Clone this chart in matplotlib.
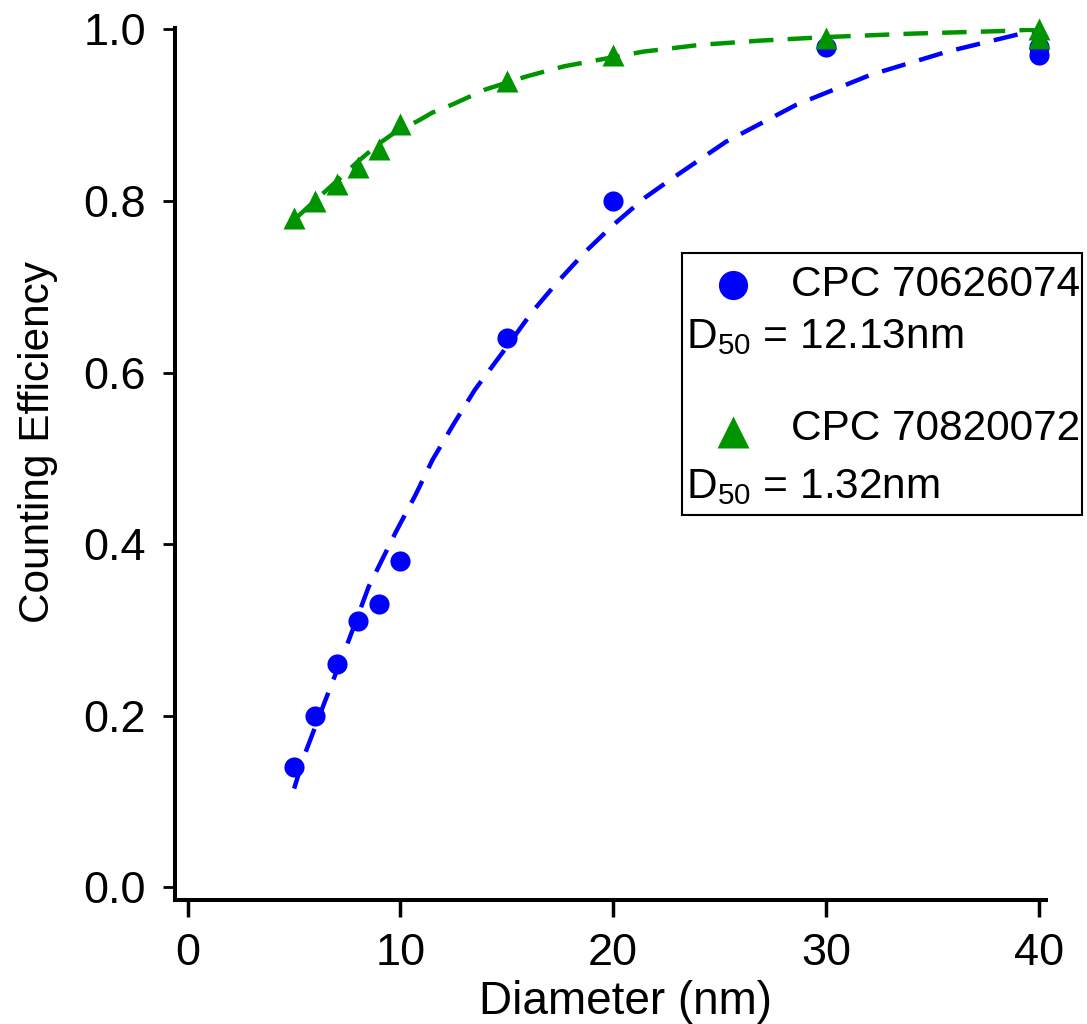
import matplotlib
matplotlib.use("Agg")
import matplotlib.pyplot as plt
from matplotlib.patches import Rectangle

plt.rcParams['font.family'] = ['Liberation Sans', 'DejaVu Sans']
plt.rcParams['mathtext.fontset'] = 'custom'
plt.rcParams['mathtext.rm'] = 'Liberation Sans'

# measured data
blue_d = [5, 6, 7, 8, 9, 10, 15, 20, 30, 40, 40]
blue_eff = [0.14, 0.20, 0.26, 0.31, 0.33, 0.38, 0.64, 0.80, 0.98, 0.98, 0.97]
green_d = [5, 6, 7, 8, 9, 10, 15, 20, 30, 40, 40]
green_eff = [0.78, 0.80, 0.82, 0.84, 0.86, 0.89, 0.94, 0.97, 0.99, 1.00, 0.99]

# fitted curves
blue_fit_d = [5.0, 5.5, 6.5, 7.6, 8.5, 9.8, 10.7, 11.5, 12.5, 13.5, 15.0, 16.2,
              17.4, 18.7, 20.0, 21.5, 22.7, 25.3, 28.6, 32.1, 35.7, 40.0]
blue_fit_eff = [0.115, 0.155, 0.22, 0.29, 0.35, 0.415, 0.457, 0.498, 0.54, 0.58,
                0.63, 0.671, 0.706, 0.741, 0.772, 0.804, 0.825, 0.869, 0.912,
                0.947, 0.974, 1.0]
green_fit_d = [5.0, 6.1, 7.0, 8.0, 9.0, 9.8, 10.8, 11.5, 12.4, 14.0, 15.9, 17.7,
               21.4, 24.1, 27.0, 30.0, 34.0, 38.2, 40.0]
green_fit_eff = [0.778, 0.803, 0.823, 0.846, 0.867, 0.881, 0.893, 0.903, 0.912,
                 0.93, 0.945, 0.957, 0.974, 0.982, 0.987, 0.991, 0.995, 0.998, 1.0]

labels = ["CPC 70626074", "CPC 70820072"]
d50_labels = ["D$_{50}$ = 12.13nm", "D$_{50}$ = 1.32nm"]
xticks = [0, 10, 20, 30, 40]
yticks = [0.0, 0.2, 0.4, 0.6, 0.8, 1.0]

BLUE = '#0000ff'
GREEN = '#009400'

fig = plt.figure(figsize=(10.87, 10.24), dpi=100)
ax = fig.add_axes([0.161, 0.121, 0.801, 0.852])

dash = (0, (5.5, 3.2))
ax.plot(blue_fit_d, blue_fit_eff, color=BLUE, lw=3.2, linestyle=dash)
ax.plot(green_fit_d, green_fit_eff, color=GREEN, lw=3.2, linestyle=dash)
ax.plot(blue_d, blue_eff, 'o', color=BLUE, ms=14.5, mec='none', clip_on=False)
ax.plot(green_d, green_eff, '^', color=GREEN, ms=16.5, mec='none', clip_on=False)

ax.set_xlim(-0.6, 40.33)
ax.set_ylim(-0.015, 1.002)
ax.set_xticks(xticks)
ax.set_xticklabels([str(t) for t in xticks])
ax.set_yticks(yticks)
ax.set_yticklabels([f"{t:.1f}" for t in yticks])

for s in ['top', 'right']:
    ax.spines[s].set_visible(False)
for s in ['left', 'bottom']:
    ax.spines[s].set_linewidth(2.9)

ax.tick_params(axis='y', length=9, width=2, labelsize=32.5, pad=12)
ax.tick_params(axis='x', length=12, width=2.5, labelsize=32.5, pad=12)

ax.set_xlabel("Diameter (nm)", fontsize=33, labelpad=4)
ax.xaxis.label.set_x(0.517)
ax.set_ylabel("Counting Efficiency", fontsize=30.5, labelpad=18)
ax.yaxis.label.set_y(0.525)

# legend box
box = Rectangle((0.582, 0.4415), 0.46, 0.3005, transform=ax.transAxes,
                facecolor='white', edgecolor='black', lw=1.5, clip_on=False, zorder=5)
ax.add_patch(box)
ax.plot([0.641], [0.705], 'o', color=BLUE, ms=21, mec='none',
        transform=ax.transAxes, clip_on=False, zorder=6)
ax.plot([0.641], [0.536], '^', color=GREEN, ms=23, mec='none',
        transform=ax.transAxes, clip_on=False, zorder=6)
ax.text(0.708, 0.705, labels[0], transform=ax.transAxes, fontsize=30.5,
        va='center', ha='left', zorder=6)
ax.text(0.587, 0.645, d50_labels[0], transform=ax.transAxes, fontsize=30.5,
        va='center', ha='left', zorder=6)
ax.text(0.708, 0.540, labels[1], transform=ax.transAxes, fontsize=30.5,
        va='center', ha='left', zorder=6)
ax.text(0.587, 0.473, d50_labels[1], transform=ax.transAxes, fontsize=30.5,
        va='center', ha='left', zorder=6)

fig.savefig("out.png", dpi=100)
